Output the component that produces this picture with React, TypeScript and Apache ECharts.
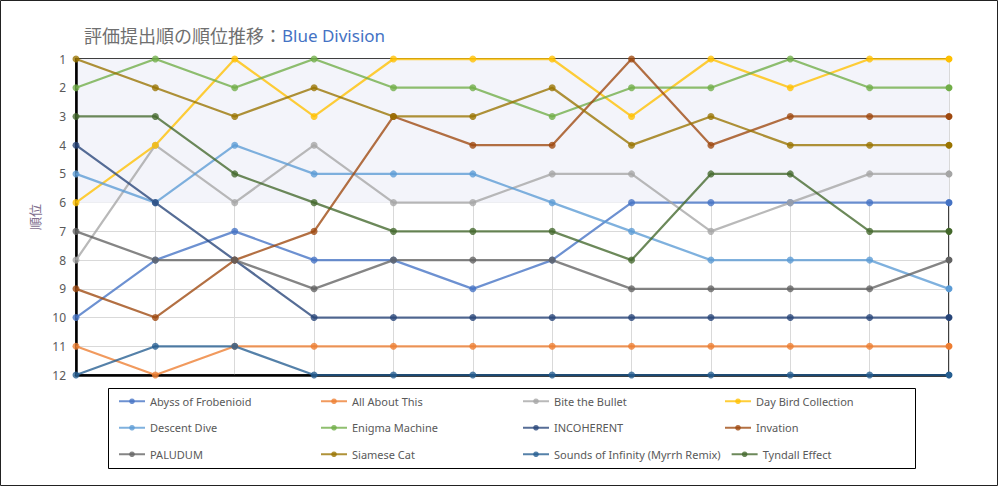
import React, { useEffect, useRef } from "react";
import * as echarts from "echarts";

const categories = ["1", "2", "3", "4", "5", "6", "7", "8", "9", "10", "11", "12"];
const rankTicks = [1, 2, 3, 4, 5, 6, 7, 8, 9, 10, 11, 12];

const seriesNames = [
  "Abyss of Frobenioid",
  "All About This",
  "Bite the Bullet",
  "Day Bird Collection",
  "Descent Dive",
  "Enigma Machine",
  "INCOHERENT",
  "Invation",
  "PALUDUM",
  "Siamese Cat",
  "Sounds of Infinity (Myrrh Remix)",
  "Tyndall Effect",
];

const abyss = [10, 8, 7, 8, 8, 9, 8, 6, 6, 6, 6, 6];
const allAbout = [11, 12, 11, 11, 11, 11, 11, 11, 11, 11, 11, 11];
const biteBullet = [8, 4, 6, 4, 6, 6, 5, 5, 7, 6, 5, 5];
const dayBird = [6, 4, 1, 3, 1, 1, 1, 3, 1, 2, 1, 1];
const descentDive = [5, 6, 4, 5, 5, 5, 6, 7, 8, 8, 8, 9];
const enigma = [2, 1, 2, 1, 2, 2, 3, 2, 2, 1, 2, 2];
const incoherent = [4, 6, 8, 10, 10, 10, 10, 10, 10, 10, 10, 10];
const invation = [9, 10, 8, 7, 3, 4, 4, 1, 4, 3, 3, 3];
const paludum = [7, 8, 8, 9, 8, 8, 8, 9, 9, 9, 9, 8];
const siamese = [1, 2, 3, 2, 3, 3, 2, 4, 3, 4, 4, 4];
const soundsInfinity = [12, 11, 11, 12, 12, 12, 12, 12, 12, 12, 12, 12];
const tyndall = [3, 3, 5, 6, 7, 7, 7, 8, 5, 5, 7, 7];

const seriesValues = [
  abyss, allAbout, biteBullet, dayBird, descentDive, enigma,
  incoherent, invation, paludum, siamese, soundsInfinity, tyndall,
];

const colors = [
  "#4472C4", "#ED7D31", "#A5A5A5", "#FFC000", "#5B9BD5", "#70AD47",
  "#264478", "#9E480E", "#636363", "#997300", "#255E91", "#43682B",
];

export default function App() {
  const ref = useRef<HTMLDivElement>(null);
  useEffect(() => {
    if (!ref.current) return;
    const chart = echarts.init(ref.current, null, { renderer: "svg" });
    const series: any[] = seriesNames.map((name, idx) => ({
      name,
      type: "line",
      symbol: "circle",
      symbolSize: 7,
      color: colors[idx],
      lineStyle: { width: 2.25, opacity: 0.78 },
      itemStyle: { opacity: 0.78 },
      data: seriesValues[idx].map((v, i, arr) =>
        i === arr.length - 1 ? { value: v, itemStyle: { opacity: 1 } } : v
      ),
      z: 3,
    }));
    series[0].markArea = {
      silent: true,
      itemStyle: { color: "#F3F4FA" },
      data: [[{ yAxis: 1 }, { yAxis: 6 }]],
      z: 0,
    };
    chart.setOption({
      animation: false,
      backgroundColor: "#fff",
      title: {
        left: 79,
        top: 21,
        text: "{a|評価提出順の順位推移：}{b|Blue Division}",
        textStyle: {
          fontWeight: "normal",
          rich: {
            a: { fontFamily: "Noto Sans CJK JP", fontSize: 18, fontWeight: "normal", color: "#6f6f6f" },
            b: { fontFamily: "Noto Sans", fontSize: 17, fontWeight: "normal", color: "#4472C4" },
          },
        },
      },
      grid: {
        left: 76,
        right: 50,
        top: 59,
        bottom: 111,
        show: true,
        borderColor: "#000",
        borderWidth: 1.5,
        containLabel: false,
      },
      xAxis: {
        type: "category",
        data: categories,
        boundaryGap: false,
        axisLine: { show: true, lineStyle: { color: "#000", width: 2.5 } },
        axisTick: { show: false },
        axisLabel: { show: false },
        splitLine: { show: true, lineStyle: { color: "#D9D9D9", width: 1 } },
      },
      yAxis: {
        type: "value",
        inverse: true,
        min: 1,
        max: 12,
        interval: 1,
        name: "順位",
        nameLocation: "middle",
        nameRotate: 90,
        nameGap: 26,
        nameTextStyle: { color: "#7f6f8f", fontFamily: "Noto Sans CJK JP", fontSize: 13 },
        axisLine: { show: true, lineStyle: { color: "#000", width: 2.5 } },
        axisTick: { show: false },
        axisLabel: {
          color: "#595959",
          fontFamily: "Noto Sans",
          fontSize: 12,
          margin: 10,
          formatter: (v: number) => (rankTicks.includes(v) ? String(v) : ""),
        },
        splitLine: { show: true, lineStyle: { color: "#D9D9D9", width: 1 } },
      },
      legend: {
        left: 118,
        top: 393,
        width: 900,
        padding: 0,
        itemWidth: 26,
        itemHeight: 7,
        itemGap: 10,
        data: seriesNames,
        textStyle: {
          color: "#595959",
          fontFamily: "Noto Sans",
          fontSize: 11,
          width: 160,
          lineHeight: 16.5,
        },
      },
      graphic: [
        {
          type: "rect",
          shape: { x: 108.5, y: 388.5, width: 807, height: 80 },
          style: { fill: "none", stroke: "#000", lineWidth: 1 },
          silent: true,
        },
        {
          type: "rect",
          shape: { x: 0.5, y: 0.5, width: 997, height: 485 },
          style: { fill: "none", stroke: "#222", lineWidth: 1 },
          silent: true,
        },
      ],
      series,
    });
    return () => chart.dispose();
  }, []);
  return (
    <div
      ref={ref}
      style={{ position: "fixed", left: 0, top: 0, width: 999, height: 486 }}
    />
  );
}
